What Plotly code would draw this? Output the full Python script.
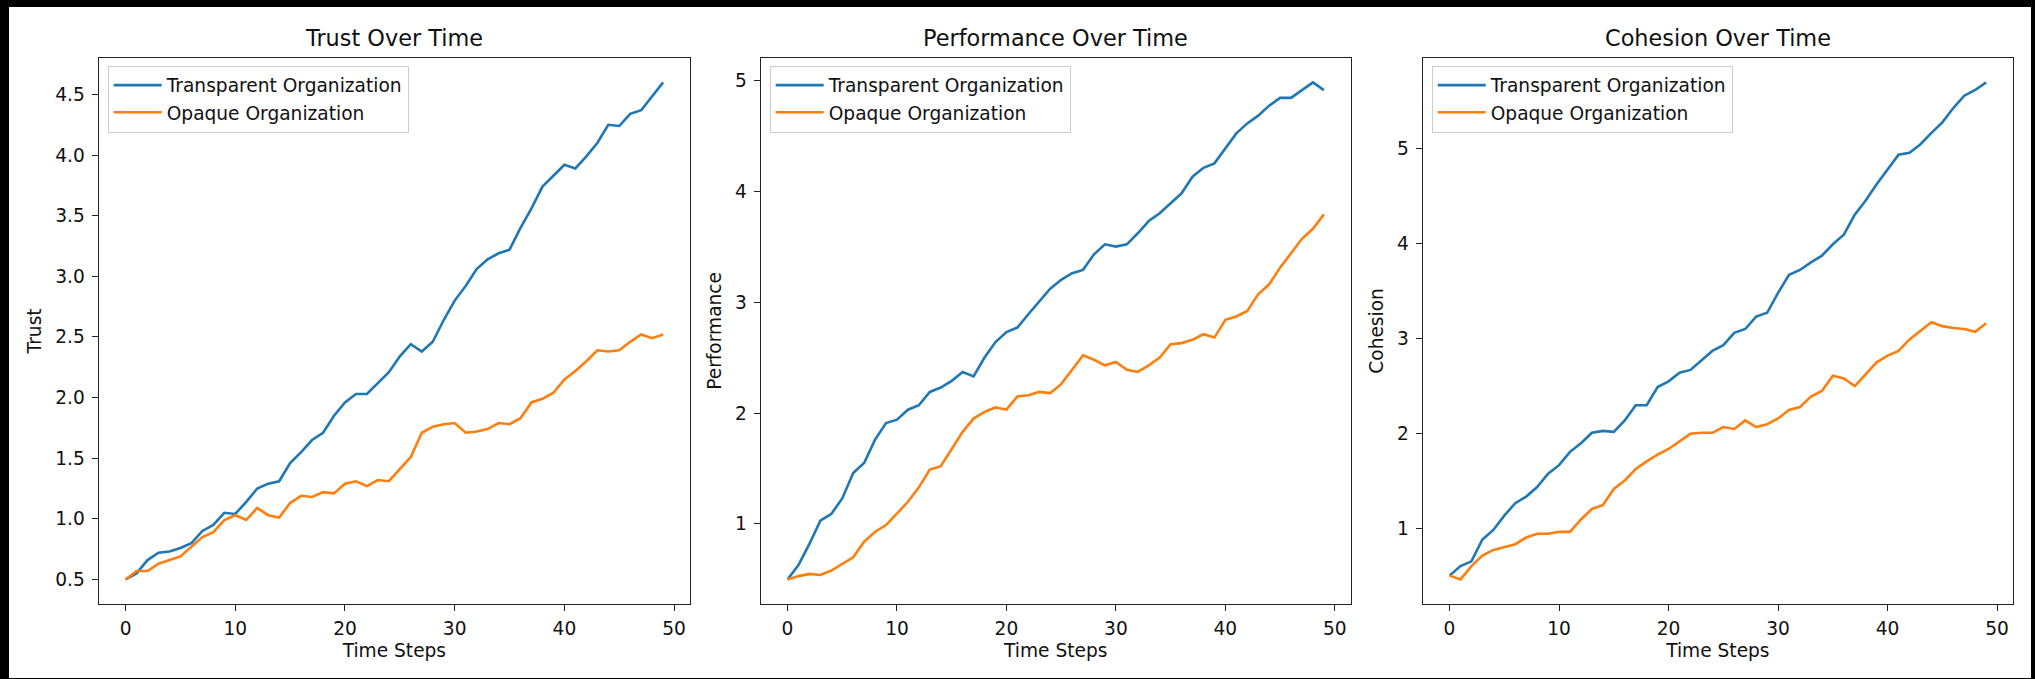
import plotly.graph_objects as go

# ---------------- data ----------------
time_steps = list(range(50))

trust_transparent = [0.50, 0.55, 0.66, 0.72, 0.73, 0.76, 0.80, 0.90, 0.95, 1.05,
                     1.04, 1.14, 1.25, 1.29, 1.31, 1.46, 1.55, 1.65, 1.71, 1.85,
                     1.96, 2.03, 2.03, 2.12, 2.21, 2.34, 2.44, 2.38, 2.46, 2.64,
                     2.80, 2.92, 3.06, 3.14, 3.19, 3.22, 3.40, 3.56, 3.74, 3.83,
                     3.92, 3.89, 3.99, 4.10, 4.25, 4.24, 4.34, 4.37, 4.49, 4.60]
trust_opaque = [0.50, 0.57, 0.57, 0.63, 0.66, 0.69, 0.77, 0.85, 0.89, 0.99,
                1.03, 0.99, 1.09, 1.03, 1.01, 1.13, 1.19, 1.18, 1.22, 1.21,
                1.29, 1.31, 1.27, 1.32, 1.31, 1.41, 1.51, 1.71, 1.76, 1.78,
                1.79, 1.71, 1.72, 1.74, 1.79, 1.78, 1.83, 1.96, 1.99, 2.04,
                2.15, 2.22, 2.30, 2.39, 2.38, 2.39, 2.46, 2.52, 2.49, 2.52]

perf_transparent = [0.50, 0.63, 0.82, 1.03, 1.09, 1.23, 1.46, 1.55, 1.76, 1.91,
                    1.94, 2.03, 2.07, 2.19, 2.23, 2.29, 2.37, 2.33, 2.50, 2.64,
                    2.73, 2.77, 2.89, 3.00, 3.12, 3.20, 3.26, 3.29, 3.43, 3.52,
                    3.50, 3.52, 3.62, 3.73, 3.80, 3.89, 3.98, 4.13, 4.21, 4.25,
                    4.38, 4.52, 4.61, 4.68, 4.77, 4.84, 4.84, 4.91, 4.98, 4.91]
perf_opaque = [0.50, 0.53, 0.55, 0.54, 0.58, 0.64, 0.70, 0.84, 0.93, 0.99,
               1.10, 1.20, 1.33, 1.49, 1.52, 1.68, 1.83, 1.95, 2.01, 2.05,
               2.03, 2.15, 2.16, 2.19, 2.18, 2.26, 2.39, 2.52, 2.48, 2.43,
               2.46, 2.39, 2.37, 2.43, 2.50, 2.62, 2.63, 2.66, 2.71, 2.68,
               2.84, 2.87, 2.92, 3.07, 3.16, 3.31, 3.44, 3.57, 3.66, 3.79]

coh_transparent = [0.51, 0.61, 0.66, 0.89, 0.99, 1.14, 1.27, 1.34, 1.44, 1.58,
                   1.67, 1.81, 1.90, 2.01, 2.03, 2.02, 2.14, 2.30, 2.30, 2.49,
                   2.55, 2.64, 2.67, 2.77, 2.87, 2.93, 3.06, 3.10, 3.23, 3.27,
                   3.48, 3.67, 3.72, 3.80, 3.87, 3.99, 4.09, 4.30, 4.45, 4.62,
                   4.77, 4.93, 4.95, 5.04, 5.16, 5.27, 5.42, 5.55, 5.61, 5.69]
coh_opaque = [0.51, 0.47, 0.61, 0.72, 0.78, 0.81, 0.84, 0.91, 0.95, 0.95,
              0.97, 0.97, 1.10, 1.21, 1.25, 1.42, 1.51, 1.63, 1.71, 1.78,
              1.84, 1.92, 2.00, 2.01, 2.01, 2.07, 2.05, 2.14, 2.07, 2.10,
              2.16, 2.25, 2.28, 2.39, 2.45, 2.61, 2.58, 2.50, 2.63, 2.75,
              2.82, 2.87, 2.99, 3.08, 3.17, 3.13, 3.11, 3.10, 3.07, 3.16]

panel_titles = ["Trust Over Time", "Performance Over Time", "Cohesion Over Time"]
y_labels = ["Trust", "Performance", "Cohesion"]
x_label = "Time Steps"
series_names = ["Transparent Organization", "Opaque Organization"]
colors = ["#1f77b4", "#ff7f0e"]

panels = [
    (trust_transparent, trust_opaque),
    (perf_transparent, perf_opaque),
    (coh_transparent, coh_opaque),
]
y_dticks = [0.5, 1, 1]
y_formats = [".1f", "d", "d"]

# ---------------- layout geometry (figure pixels) ----------------
W, H = 2022, 671
panel_px = [(89.7, 681.0), (751.7, 1341.7), (1413.7, 2004.0)]
top_px, bottom_px = 50.5, 597.3

FONT = "DejaVu Sans"
TXT = "#111111"
FS = 18.6
FS_TITLE = 22.4

fig = go.Figure()
layout = dict(
    width=W, height=H,
    margin=dict(l=0, r=0, t=0, b=0, pad=0),
    paper_bgcolor="white", plot_bgcolor="white",
    font=dict(family=FONT, size=FS, color=TXT),
    showlegend=True,
    annotations=[],
)

def pad_range(vals, frac=0.05):
    lo, hi = min(vals), max(vals)
    d = (hi - lo) * frac
    return [lo - d, hi + d]

xr = pad_range(time_steps)
ydom = [1 - bottom_px / H, 1 - top_px / H]

for k, ((a, b), (x0, x1)) in enumerate(zip(panels, panel_px)):
    idx = "" if k == 0 else str(k + 1)
    leg = "legend" if k == 0 else f"legend{k + 1}"
    for j, (vals, name) in enumerate(zip((a, b), series_names)):
        fig.add_trace(go.Scatter(
            x=time_steps, y=vals, mode="lines", name=name,
            line=dict(color=colors[j], width=2.6),
            xaxis="x" + idx, yaxis="y" + idx,
            legend=leg, legendgroup=f"g{k}{j}",
        ))
    common = dict(
        showline=True, mirror=True, linecolor="#222222", linewidth=1.3,
        ticks="outside", ticklen=6, tickwidth=1.3, tickcolor="#222222",
        showgrid=False, zeroline=False, automargin=False,
        tickfont=dict(family=FONT, size=FS, color=TXT),
    )
    layout["xaxis" + idx] = dict(
        common, domain=[x0 / W, x1 / W], range=xr, dtick=10, tick0=0,
        anchor="y" + idx, ticklabelstandoff=1,
        title=dict(text=x_label, font=dict(family=FONT, size=FS, color=TXT), standoff=6),
    )
    layout["yaxis" + idx] = dict(
        common, domain=ydom, range=pad_range(a + b), dtick=y_dticks[k], tick0=0,
        tickformat=y_formats[k], anchor="x" + idx, ticklabelstandoff=3,
        title=dict(text=y_labels[k], font=dict(family=FONT, size=FS, color=TXT), standoff=8),
    )
    layout[leg] = dict(
        x=(x0 + 9) / W, y=1 - (top_px + 8) / H, xanchor="left", yanchor="top",
        bgcolor="rgba(255,255,255,0.8)", bordercolor="#cccccc", borderwidth=1,
        font=dict(family=FONT, size=FS, color=TXT),
        tracegroupgap=0, itemwidth=48,
    )
    layout["annotations"].append(dict(
        text=panel_titles[k], x=(x0 + x1) / 2 / W, y=1 - 31 / H,
        xref="paper", yref="paper", xanchor="center", yanchor="middle",
        showarrow=False, font=dict(family=FONT, size=FS_TITLE, color=TXT),
    ))

fig.update_layout(**layout)

fig.write_html(
    "out.html",
    post_script=(
        "document.body.style.margin='0';"
        "document.body.style.padding='7px 0 0 9px';"
        "document.body.style.background='#000';"
        "document.body.style.overflow='hidden';"
    ),
)
